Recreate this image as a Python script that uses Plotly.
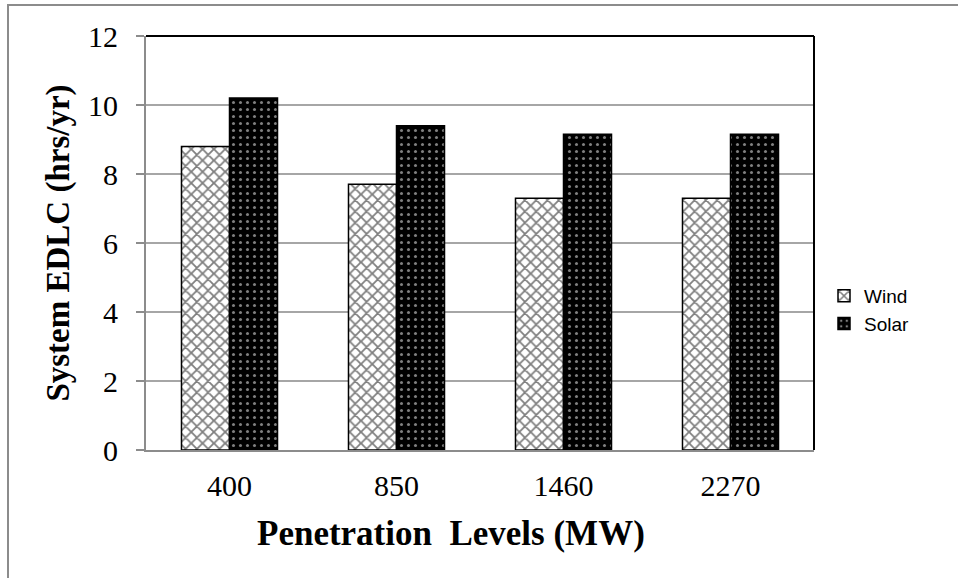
import plotly.graph_objects as go

categories = ["400", "850", "1460", "2270"]
wind = [8.8, 7.7, 7.3, 7.3]
solar = [10.2, 9.4, 9.15, 9.15]
y_ticks = [0, 2, 4, 6, 8, 10, 12]
x_title = "<b>Penetration  Levels (MW)</b>"
y_title = "<b>System EDLC (hrs/yr)</b>"

L, R, T, B = 146, 144, 36, 128
W, H = 958, 578
pw, ph = W - L - R, H - T - B

def px_x(px):
    return (px - L) / pw

def px_y(py):
    return (H - B - py) / ph

fig = go.Figure()
fig.add_trace(go.Bar(
    x=categories, y=wind, name="Wind",
    marker=dict(color="white", line=dict(color="black", width=1.5),
                pattern=dict(shape="x", fgcolor="black", bgcolor="white", size=8, solidity=0.4)),
))
fig.add_trace(go.Bar(
    x=categories, y=solar, name="Solar",
    marker=dict(color="black", line=dict(color="black", width=1.5),
                pattern=dict(shape=".", fgcolor="white", bgcolor="black", size=7, solidity=0.15)),
))

fig.update_layout(
    width=W, height=H,
    margin=dict(l=L, r=R, t=T, b=B),
    paper_bgcolor="white", plot_bgcolor="white",
    barmode="group", bargap=0.425, bargroupgap=0,
    font=dict(family="Liberation Serif", color="black"),
    showlegend=True,
    legend=dict(x=px_x(824), y=px_y(310), xanchor="left", yanchor="middle",
                font=dict(family="Liberation Sans", size=19, color="black"),
                itemwidth=30, tracegroupgap=4, bgcolor="rgba(0,0,0,0)"),
    xaxis=dict(showline=True, linecolor="#8c8c8c", linewidth=2, ticks="",
               tickfont=dict(size=30), ticklabelstandoff=8),
    yaxis=dict(range=[0, 12], tickvals=y_ticks, showline=True, linecolor="#8c8c8c", linewidth=2,
               ticks="outside", ticklen=8, tickcolor="#8c8c8c", tickwidth=2,
               showgrid=True, gridcolor="#a6a6a6", gridwidth=2,
               tickfont=dict(size=30), ticklabelstandoff=12,
               title=dict(text=y_title, font=dict(size=33), standoff=8)),
    annotations=[
        dict(text=x_title, xref="paper", yref="paper", x=px_x(451), y=px_y(533),
             xanchor="center", yanchor="middle", showarrow=False,
             font=dict(family="Liberation Serif", size=35, color="black")),
    ],
    shapes=[
        dict(type="line", xref="paper", yref="paper", x0=0, x1=1, y0=1, y1=1,
             line=dict(color="black", width=2)),
        dict(type="line", xref="paper", yref="paper", x0=1, x1=1, y0=0, y1=1,
             line=dict(color="black", width=2)),
        dict(type="rect", xref="paper", yref="paper", x0=px_x(8), x1=px_x(970), y0=px_y(590), y1=px_y(5),
             line=dict(color="#8c8c8c", width=2), layer="below"),
    ],
)

fig.write_html("out.html")
